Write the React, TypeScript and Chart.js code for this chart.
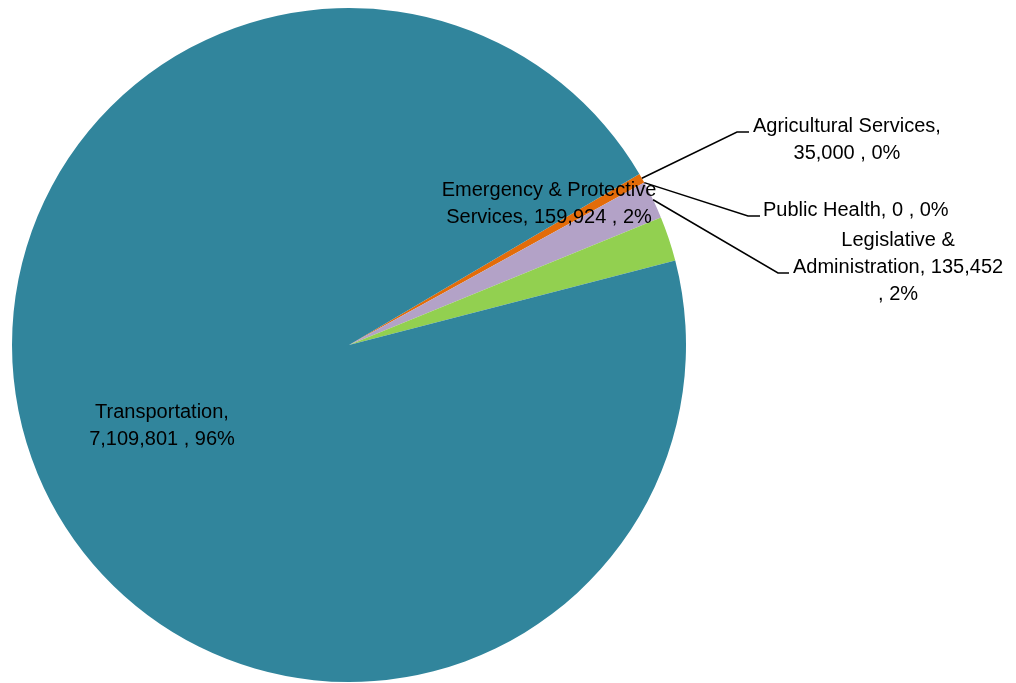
import React, { useEffect, useRef } from "react";
import { Chart, registerables } from "chart.js";

Chart.register(...registerables);

// ---- data ----
const categories: string[] = [
  "Agricultural Services",
  "Public Health",
  "Legislative & Administration",
  "Emergency & Protective Services",
  "Transportation",
];
const values: number[] = [35000, 0, 135452, 159924, 7109801];
const colors: string[] = ["#E36C09", "#4BACC6", "#B3A2C7", "#92D050", "#31859C"];

// ---- label layout (positions of the data labels) ----
type Lay = {
  leader: boolean;
  left?: number; // block left edge (leader labels)
  cx?: number; // block centre (inside labels)
  top: number; // centre y of first line
  maxWidth: number;
  elbowX?: number;
  elbowY?: number;
  endX?: number;
};
const labelLayout: Lay[] = [
  { leader: true, left: 753, top: 126, maxWidth: 200, elbowX: 737, elbowY: 132, endX: 749 },
  { leader: true, left: 763, top: 210, maxWidth: 400, elbowX: 748, elbowY: 216, endX: 760 },
  { leader: true, left: 793, top: 240, maxWidth: 215, elbowX: 778, elbowY: 273, endX: 789 },
  { leader: false, cx: 549, top: 190, maxWidth: 222 },
  { leader: false, cx: 162, top: 412, maxWidth: 200 },
];

const FONT = '20px "Liberation Sans", Arial, sans-serif';
const LINE_H = 27;

function wrap(ctx: CanvasRenderingContext2D, text: string, maxWidth: number): string[] {
  const words = text.split(" ");
  const lines: string[] = [];
  let cur = "";
  for (const w of words) {
    const test = cur ? cur + " " + w : w;
    if (cur && ctx.measureText(test).width > maxWidth) {
      lines.push(cur);
      cur = w;
    } else {
      cur = test;
    }
  }
  if (cur) lines.push(cur);
  return lines;
}

const labelPlugin = {
  id: "sliceLabels",
  afterDatasetsDraw(chart: any) {
    const ctx: CanvasRenderingContext2D = chart.ctx;
    const meta = chart.getDatasetMeta(0);
    const total = values.reduce((a, b) => a + b, 0);
    ctx.save();
    ctx.font = FONT;
    ctx.fillStyle = "#000";
    ctx.strokeStyle = "#000";
    ctx.lineWidth = 1.5;
    ctx.textAlign = "center";
    ctx.textBaseline = "middle";
    meta.data.forEach((arc: any, i: number) => {
      const lay = labelLayout[i];
      const { x, y, startAngle, endAngle, outerRadius } = arc.getProps(
        ["x", "y", "startAngle", "endAngle", "outerRadius"],
        true
      );
      const mid = (startAngle + endAngle) / 2;
      const text = `${categories[i]}, ${values[i].toLocaleString("en-US")} , ${Math.round(
        (values[i] / total) * 100
      )}%`;
      const lines = wrap(ctx, text, lay.maxWidth);
      let cx = lay.cx ?? 0;
      if (lay.leader) {
        const sx = x + Math.cos(mid) * outerRadius;
        const sy = y + Math.sin(mid) * outerRadius;
        ctx.beginPath();
        ctx.moveTo(sx, sy);
        ctx.lineTo(lay.elbowX!, lay.elbowY!);
        ctx.lineTo(lay.endX!, lay.elbowY!);
        ctx.stroke();
        const w = Math.max(...lines.map((l) => ctx.measureText(l).width));
        cx = lay.left! + w / 2;
      }
      lines.forEach((ln, k) => ctx.fillText(ln, cx, lay.top + k * LINE_H));
    });
    ctx.restore();
  },
};

export default function App() {
  const ref = useRef<HTMLCanvasElement | null>(null);
  useEffect(() => {
    if (!ref.current) return;
    const chart = new Chart(ref.current, {
      type: "pie",
      data: {
        labels: categories,
        datasets: [
          {
            data: values,
            backgroundColor: colors,
            borderWidth: 0,
          },
        ],
      },
      options: {
        responsive: false,
        animation: false,
        rotation: 59.5,
        layout: { padding: { left: 12, top: 7, right: 330, bottom: 0 } },
        plugins: {
          legend: { display: false },
          tooltip: { enabled: false },
        },
      },
      plugins: [labelPlugin],
    });
    return () => chart.destroy();
  }, []);
  return (
    <div style={{ position: "fixed", left: 0, top: 0, width: 1016, height: 683, background: "#fff" }}>
      <canvas ref={ref} width={1016} height={683} />
    </div>
  );
}
